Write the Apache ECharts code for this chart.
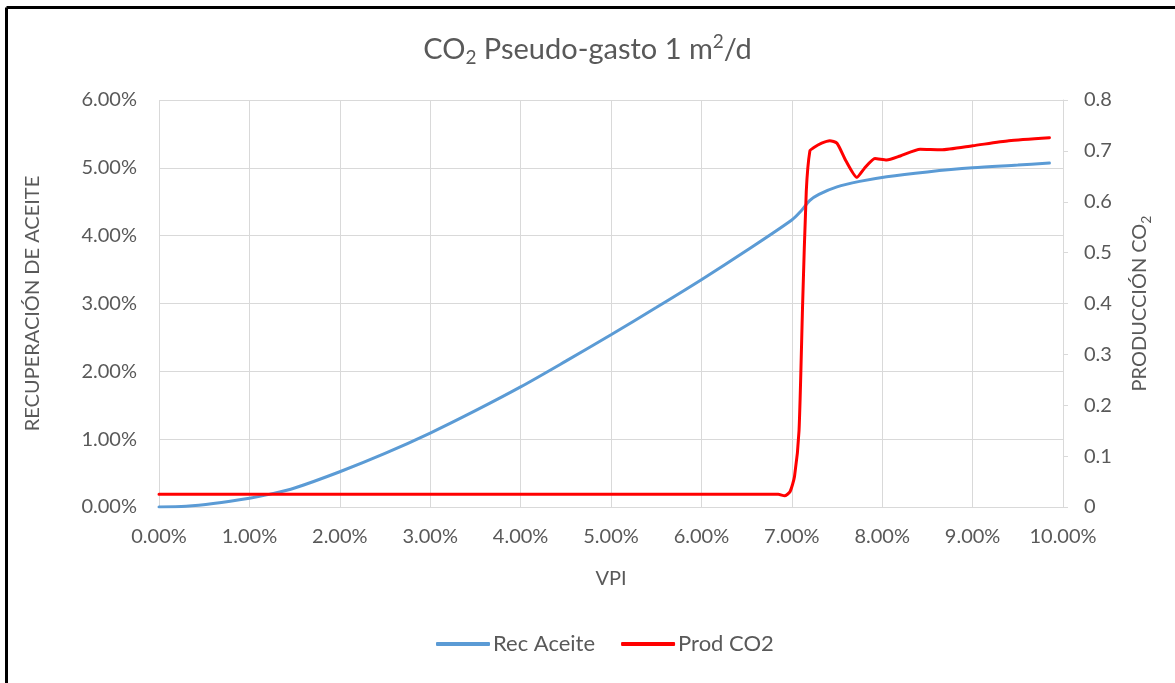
<!DOCTYPE html>
<html><head><meta charset="utf-8">
<script src="https://cdn.jsdelivr.net/npm/echarts@6/dist/echarts.min.js"></script>
<style>html,body{margin:0;padding:0;background:#fff}#c{width:1175px;height:683px}</style>
</head><body><div id="c"></div>
<script>
// VPI (%) vs Recuperación de aceite (%)
const recVPI = [0, 0.3, 0.6, 1.0, 1.23, 1.5, 2.0, 2.5, 3.0, 3.5, 4.0, 4.5, 5.0, 5.5, 6.0, 6.5, 7.0, 7.1, 7.2, 7.3, 7.5, 7.75, 8.05, 8.5, 9.0, 9.5, 9.85];
const recVal = [0, 0.01, 0.05, 0.13, 0.19, 0.28, 0.52, 0.79, 1.09, 1.42, 1.77, 2.15, 2.54, 2.94, 3.35, 3.78, 4.23, 4.36, 4.52, 4.61, 4.72, 4.80, 4.87, 4.94, 5.0, 5.04, 5.07];
// VPI (%) vs Producción CO2
const co2VPI = [0, 1, 2, 3, 4, 5, 6, 6.85, 6.92, 6.98, 7.03, 7.08, 7.12, 7.16, 7.2, 7.24, 7.33, 7.42, 7.5, 7.6, 7.72, 7.8, 7.92, 8.05, 8.2, 8.42, 8.65, 9.0, 9.4, 9.85];
const co2Val = [0.025, 0.025, 0.025, 0.025, 0.025, 0.025, 0.025, 0.025, 0.022, 0.03, 0.06, 0.15, 0.40, 0.62, 0.70, 0.706, 0.715, 0.72, 0.715, 0.68, 0.648, 0.665, 0.685, 0.682, 0.69, 0.703, 0.702, 0.71, 0.72, 0.726];
const xTicks = [0, 1, 2, 3, 4, 5, 6, 7, 8, 9, 10];

const txt = '#595959';
const grid = '#D9D9D9';
const font = 'Lato';
const chart = echarts.init(document.getElementById('c'), null, {renderer: 'canvas'});
chart.setOption({
  backgroundColor: '#fff',
  textStyle: {fontFamily: font},
  title: {
    text: '{a|CO}{s|2}{a| Pseudo-gasto 1 m}{p|2}{a|/d}',
    left: 'center', top: 27,
    textStyle: {
      fontWeight: 'normal',
      rich: {
        a: {fontFamily: font, fontSize: 29, color: txt, fontWeight: 'normal'},
        s: {fontFamily: font, fontSize: 19, color: txt, fontWeight: 'normal', verticalAlign: 'bottom', padding: [16, 0, 0, 0]},
        p: {fontFamily: font, fontSize: 19, color: txt, fontWeight: 'normal', verticalAlign: 'top', padding: [0, 0, 12, 0]}
      }
    }
  },
  graphic: [
    {type: 'line', shape: {x1: 6.5, y1: 7.5, x2: 1175, y2: 7.5}, style: {stroke: '#000', lineWidth: 3}},
    {type: 'line', shape: {x1: 6.5, y1: 7.5, x2: 6.5, y2: 683}, style: {stroke: '#000', lineWidth: 3}}
  ],
  legend: {
    bottom: 23, left: 431, itemGap: 26, itemWidth: 54, itemHeight: 4, icon: 'roundRect',
    textStyle: {fontFamily: font, fontSize: 22, color: txt, padding: [0, 0, 0, -2]},
    data: ['Rec Aceite', 'Prod CO2']
  },
  grid: {left: 159, right: 112, top: 100, bottom: 176, containLabel: false},
  xAxis: {
    type: 'value', min: 0, max: 10, interval: 1,
    name: 'VPI', nameLocation: 'middle', nameGap: 62,
    nameTextStyle: {fontFamily: font, fontSize: 20, color: txt},
    axisLine: {show: true, lineStyle: {color: grid, width: 1}},
    axisTick: {show: false},
    axisLabel: {color: txt, fontSize: 20, margin: 20, formatter: v => v.toFixed(2) + '%'},
    splitLine: {show: true, lineStyle: {color: grid, width: 1}}
  },
  yAxis: [{
    type: 'value', min: 0, max: 6, interval: 1, position: 'left',
    name: 'RECUPERACIÓN DE ACEITE', nameLocation: 'middle', nameGap: 116, nameRotate: 90,
    nameTextStyle: {fontFamily: font, fontSize: 20, color: txt},
    axisLine: {show: false}, axisTick: {show: false},
    axisLabel: {color: txt, fontSize: 20, margin: 22, formatter: v => v.toFixed(2) + '%'},
    splitLine: {show: true, lineStyle: {color: grid, width: 1}}
  }, {
    type: 'value', min: 0, max: 0.8, interval: 0.1, position: 'right',
    name: '{a|PRODUCCIÓN CO}{s|2}', nameLocation: 'middle', nameGap: 64, nameRotate: 90,
    nameTextStyle: {
      rich: {
        a: {fontFamily: font, fontSize: 20, color: txt},
        s: {fontFamily: font, fontSize: 14, color: txt, verticalAlign: 'bottom', padding: [12, 0, 0, 0]}
      }
    },
    axisLine: {show: true, lineStyle: {color: grid, width: 1}},
    axisTick: {show: true, length: 5, lineStyle: {color: grid}},
    axisLabel: {color: txt, fontSize: 20, margin: 21, formatter: v => (Math.round(v * 10) / 10).toString()},
    splitLine: {show: false}
  }],
  series: [{
    name: 'Rec Aceite', type: 'line', yAxisIndex: 0, symbol: 'none', smooth: 0.3,
    lineStyle: {color: '#5B9BD5', width: 3, cap: 'round'}, itemStyle: {color: '#5B9BD5'},
    data: recVPI.map((x, i) => [x, recVal[i]])
  }, {
    name: 'Prod CO2', type: 'line', yAxisIndex: 1, symbol: 'none', smooth: 0.2,
    lineStyle: {color: '#FF0000', width: 3, cap: 'round', join: 'round'}, itemStyle: {color: '#FF0000'},
    data: co2VPI.map((x, i) => [x, co2Val[i]])
  }],
  animation: false
});
</script></body></html>
